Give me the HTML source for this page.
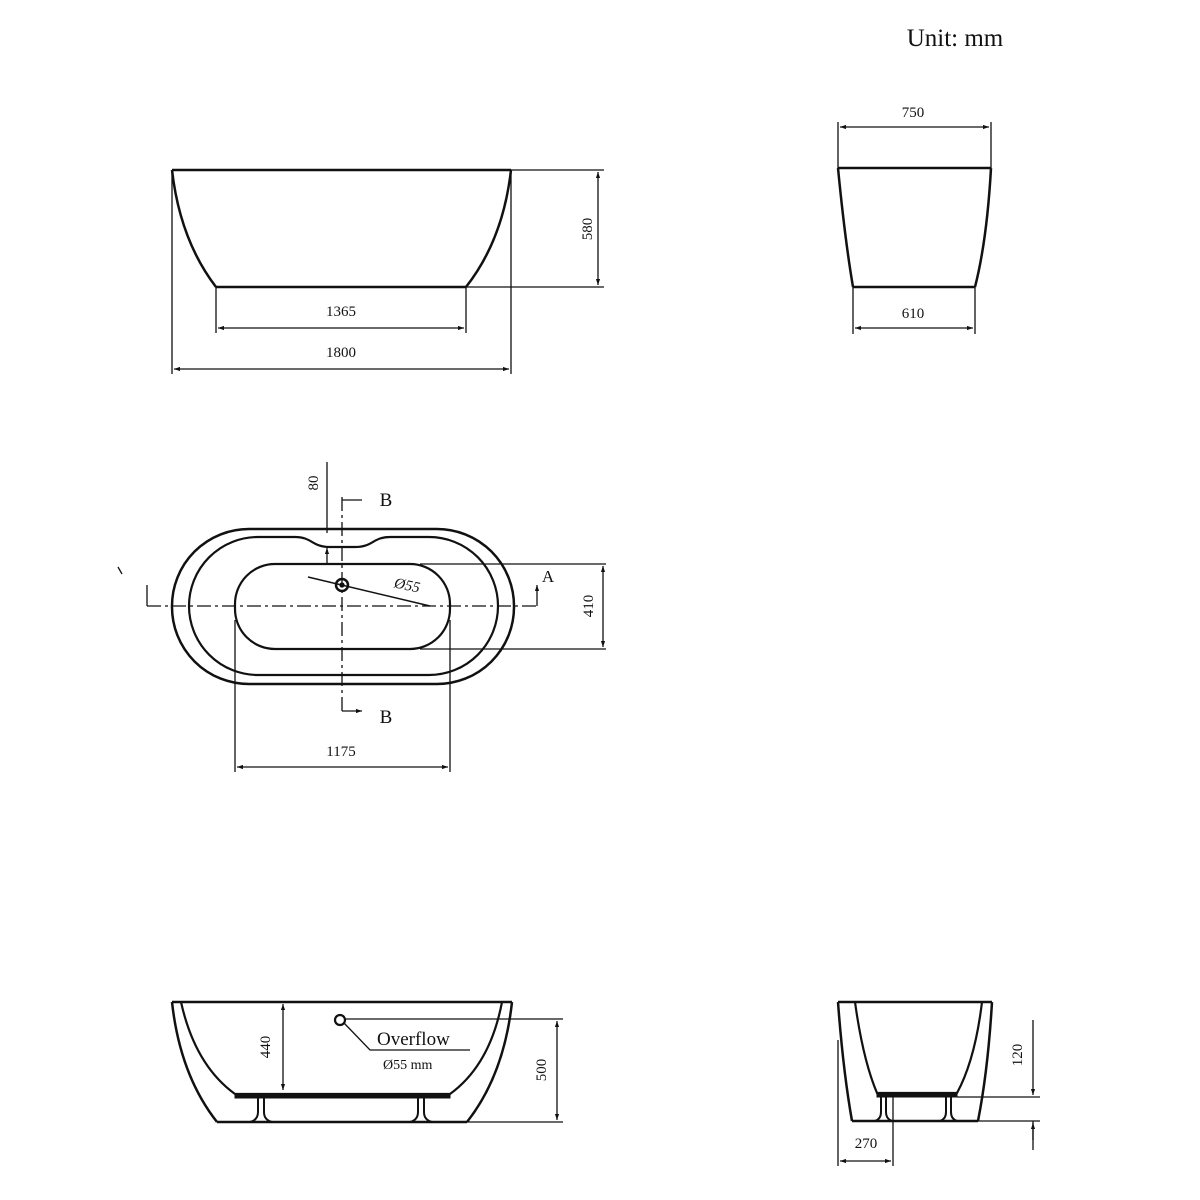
<!DOCTYPE html>
<html><head><meta charset="utf-8"><style>body{margin:0;background:#fff}svg{display:block}text{font-family:"Liberation Serif",serif;fill:#111}</style></head><body>
<svg width="1200" height="1200" viewBox="0 0 1200 1200" xmlns="http://www.w3.org/2000/svg">
<defs>
<marker id="a" viewBox="0 0 10 10" refX="10" refY="5" markerWidth="9" markerHeight="6" orient="auto" markerUnits="userSpaceOnUse"><path d="M0,1.5 L10,5 L0,8.5z" fill="#111"/></marker>
</defs>
<g stroke="#111" fill="none" stroke-width="1.3">
<text x="955" y="46" font-size="25" text-anchor="middle" stroke="none">Unit: mm</text>
<!-- top side view -->
<path d="M172,170 H511" stroke-width="2.5"/>
<path d="M216,287 H466" stroke-width="2.5"/>
<path d="M172,170 Q180,240 216,287" stroke-width="2.5"/>
<path d="M511,170 Q503,240 466,287" stroke-width="2.5"/>
<path d="M172,170 V374 M511,170 V374 M216,287 V333 M466,287 V333 M511,170 H604 M466,287 H604"/>
<g marker-end="url(#a)">
<path d="M341,328 H218"/><path d="M341,328 H464"/>
<path d="M341,369 H174"/><path d="M341,369 H509"/>
<path d="M598,229 V172"/><path d="M598,229 V285"/>
</g>
<text x="341" y="316" font-size="15" text-anchor="middle" stroke="none">1365</text>
<text x="341" y="357" font-size="15" text-anchor="middle" stroke="none">1800</text>
<text transform="translate(592,229) rotate(-90)" font-size="15" text-anchor="middle" stroke="none">580</text>
<!-- end view -->
<path d="M838,168 H991 M853,287 H975 M838,168 Q845,240 853,287 M991,168 Q987,240 975,287" stroke-width="2.5"/>
<path d="M838,122 V168 M991,122 V168 M853,287 V334 M975,287 V334"/>
<g marker-end="url(#a)">
<path d="M914,127 H840"/><path d="M914,127 H989"/>
<path d="M914,328 H855"/><path d="M914,328 H973"/>
</g>
<text x="913" y="117" font-size="15" text-anchor="middle" stroke="none">750</text>
<text x="913" y="318" font-size="15" text-anchor="middle" stroke="none">610</text>
<!-- plan view -->
<rect x="172" y="529" width="342" height="155" rx="77" stroke-width="2.5"/>
<path d="M258,537 H295 C312,537 312,547 330,547 H355 C373,547 373,537 390,537 H429 A69,69 0 0 1 429,675 H258 A69,69 0 0 1 258,537 Z" stroke-width="2.2"/>
<rect x="235" y="564" width="215" height="85" rx="40" stroke-width="2.2"/>
<path d="M147,606 H537 M342,497 V712" stroke-dasharray="14,4,3,4"/>
<path d="M342,500 H362 M342,711 H362" marker-end="url(#a)"/>
<text x="386" y="506" font-size="19" stroke="none" text-anchor="middle">B</text>
<text x="386" y="723" font-size="19" stroke="none" text-anchor="middle">B</text>
<path d="M147,606 V585 M537,606 V585" marker-end="url(#a)"/>
<path d="M118,567 L122,574"/>
<text x="548" y="582" font-size="17" stroke="none" text-anchor="middle">A</text>
<circle cx="342" cy="585" r="6" stroke-width="2.5"/>
<circle cx="342" cy="585" r="2" fill="#111"/>
<path d="M308,577 L430,606" stroke-width="1.5"/>
<text x="407" y="590" font-size="15" font-style="italic" stroke="none" text-anchor="middle" transform="rotate(12,407,586)">Ø55</text>
<path d="M327,462 V533 M327,565 V548" marker-end="url(#a)"/>
<text transform="translate(318,483) rotate(-90)" font-size="15" text-anchor="middle" stroke="none">80</text>
<path d="M420,564 H606 M420,649 H606 M235,620 V772 M450,620 V772"/>
<g marker-end="url(#a)">
<path d="M603,606 V566"/><path d="M603,606 V647"/>
<path d="M342,767 H237"/><path d="M342,767 H448"/>
</g>
<text transform="translate(593,606) rotate(-90)" font-size="15" text-anchor="middle" stroke="none">410</text>
<text x="341" y="756" font-size="15" text-anchor="middle" stroke="none">1175</text>
<!-- bottom side section -->
<path d="M172,1002 H512 M217,1122 H467 M172,1002 Q180,1075 217,1122 M512,1002 Q504,1075 467,1122" stroke-width="2.5"/>
<path d="M181,1002 Q195,1065 235,1094 H450 Q490,1065 502,1002" stroke-width="2.2"/>
<path d="M235,1094 H450 V1098 H235Z" fill="#111" stroke-width="1"/>
<path d="M258,1098 V1112 Q258,1120 250,1122 M264,1098 V1112 Q264,1120 272,1122 M418,1098 V1112 Q418,1120 410,1122 M424,1098 V1112 Q424,1120 432,1122" stroke-width="2"/>
<circle cx="340" cy="1020" r="5" stroke-width="2.2"/>
<path d="M344,1023 L370,1050 H470 M345,1019 H563 M467,1122 H563"/>
<text x="377" y="1045" font-size="19" stroke="none">Overflow</text>
<text x="383" y="1069" font-size="14" stroke="none">Ø55 mm</text>
<g marker-end="url(#a)">
<path d="M283,1047 V1004"/><path d="M283,1047 V1090"/>
<path d="M557,1070 V1021"/><path d="M557,1070 V1120"/>
</g>
<text transform="translate(270,1047) rotate(-90)" font-size="15" text-anchor="middle" stroke="none">440</text>
<text transform="translate(546,1070) rotate(-90)" font-size="15" text-anchor="middle" stroke="none">500</text>
<!-- end bottom -->
<path d="M838,1002 H992 M852,1121 H978 M838,1002 Q843,1070 852,1121 M992,1002 Q988,1070 978,1121" stroke-width="2.5"/>
<path d="M855,1002 Q863,1060 877,1093 H957 Q975,1060 982,1002" stroke-width="2.2"/>
<path d="M877,1093 H957 V1097 H877Z" fill="#111" stroke-width="1"/>
<path d="M881,1097 V1112 Q881,1119 875,1121 M886,1097 V1112 Q886,1119 892,1121 M946,1097 V1112 Q946,1119 940,1121 M951,1097 V1112 Q951,1119 957,1121" stroke-width="2"/>
<path d="M957,1097 H1040 M978,1121 H1040 M838,1040 V1166 M893,1097 V1166 M1033,1121 V1150"/>
<path d="M1033,1020 V1095" marker-end="url(#a)"/>
<path d="M1033,1140 V1123" marker-end="url(#a)"/>
<g marker-end="url(#a)">
<path d="M866,1161 H840"/><path d="M866,1161 H891"/>
</g>
<text transform="translate(1022,1055) rotate(-90)" font-size="15" text-anchor="middle" stroke="none">120</text>
<text x="866" y="1148" font-size="15" text-anchor="middle" stroke="none">270</text>
</g>
</svg>
</body></html>
